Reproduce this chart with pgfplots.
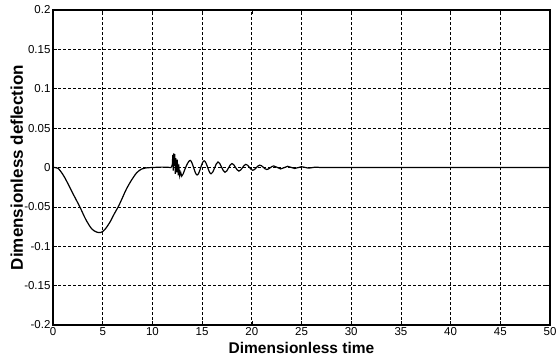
\documentclass[border=0pt]{standalone}
\usepackage{fontspec}
\setmainfont{Liberation Sans}
\usepackage{pgfplots}
\pgfplotsset{compat=1.18}
\begin{document}
\begin{tikzpicture}
\begin{axis}[
  name=ax,
  scale only axis,
  width=497pt, height=315pt,
  xmin=0, xmax=50, ymin=-0.2, ymax=0.2,
  xtick={0,5,...,50},
  xticklabels={0,5,10,15,20,25,30,35,40,45,50},
  ytick={-0.2,-0.15,-0.1,-0.05,0,0.05,0.1,0.15,0.2},
  yticklabels={-0.2,-0.15,-0.1,-0.05,0,0.05,0.1,0.15,0.2},
  tick align=inside,
  major tick length=4pt,
  tick style={black, line width=0.6pt},
  ticklabel style={font=\fontsize{11.5}{13}\selectfont},
  xticklabel style={yshift=1pt},
  yticklabel style={xshift=1pt},
  grid=major,
  major grid style={black, line width=0.7pt, dash pattern=on 3pt off 2pt},
  axis line style={black, line width=1.3pt},
  xlabel={Dimensionless time},
  ylabel={Dimensionless deflection},
  xlabel style={at={(axis description cs:0.5,0)}, anchor=base, yshift=-28pt, font=\fontsize{15.5}{18}\selectfont\bfseries},
  ylabel style={at={(axis description cs:0,0.5)}, anchor=base, yshift=30pt, font=\fontsize{17}{19}\selectfont\bfseries},
]
\addplot[black, line width=1.2pt, smooth, tension=0.5] coordinates {
(0,0) (0.5,-0.001) (1.0,-0.009) (1.4,-0.018) (2.0,-0.033) (2.7,-0.050)
(3.3,-0.066) (3.9,-0.078) (4.4,-0.082) (4.8,-0.0825) (5.2,-0.079)
(5.7,-0.070) (6.2,-0.058) (6.6,-0.049) (7.0,-0.038) (7.4,-0.027)
(7.9,-0.016) (8.4,-0.007) (8.9,-0.002) (9.5,-0.0003) (10,0)
(11,0.0005) (11.9,0)
};
\addplot[black, line width=1.1pt] coordinates {
(11.9,0) (12.0,0.004) (12.05,0.016) (12.1,-0.004) (12.15,0.018)
(12.2,0.002) (12.25,0.017) (12.3,-0.008) (12.35,0.012) (12.45,-0.006)
(12.5,0.010) (12.6,-0.010) (12.65,0.004) (12.75,-0.011) (12.85,-0.006)
(12.95,-0.011) (13.1,-0.008)
};
\addplot[black, line width=1.2pt, smooth, tension=0.6] coordinates {
(13.1,-0.008) (13.8,0.009) (14.5,-0.0095) (15.2,0.0085) (15.9,-0.008)
(16.6,0.007) (17.3,-0.006) (18.0,0.005) (18.7,-0.0045) (19.4,0.004)
(20.1,-0.0035) (20.8,0.003) (21.5,-0.0025) (22.2,0.002) (22.9,-0.0018)
(23.6,0.0015) (24.3,-0.0012) (25.0,0.001) (25.7,-0.0008) (26.4,0.0005)
(27.1,0) (30,0) (40,0) (50,0)
};
\end{axis}
\pgfresetboundingbox
\path (ax.south west) ++(-53pt,-35pt) rectangle ++(556pt,360pt);
\end{tikzpicture}
\end{document}
